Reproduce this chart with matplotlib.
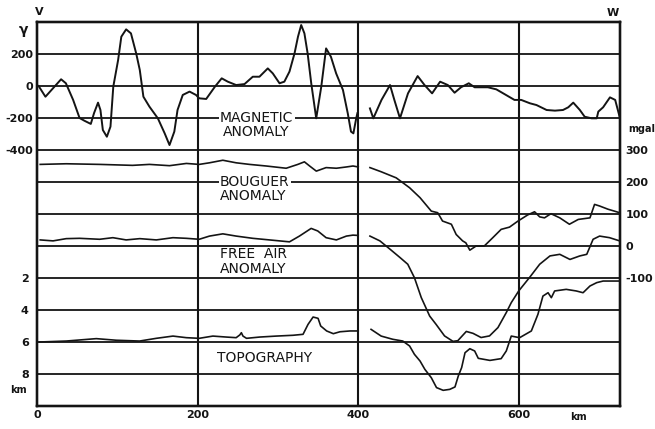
import matplotlib
matplotlib.use("Agg")
import matplotlib.pyplot as plt

# profile distances (km) and values
mag_w_km = [2, 10.5, 30, 36, 45, 53, 59, 67, 71, 76, 79, 82, 87, 91.5, 95, 101, 105, 111, 117,
            123.5, 128, 132.5, 140, 150.5, 159, 165, 171, 175, 181.5, 190, 198, 202, 210.7,
            221.6, 230, 237.6, 248, 258.4, 268.7, 277, 287.4, 293.6, 302, 308, 314.4, 320.7,
            325, 329, 333, 337, 341.5, 347.7, 354, 360, 366, 372.5, 381, 387, 391, 394, 397.5, 399]
mag_w_g = [0, -67, 42, 17, -87, -200, -217, -237, -170, -104, -150, -275, -317, -254, -4, 162,
           308, 354, 329, 204, 100, -67, -129, -202, -296, -369, -285, -150, -56, -35, -56, -77,
           -81, -4, 48, 27, 6, 12, 58, 58, 110, 79, 17, 27, 90, 204, 308, 381, 329, 204, 17, -202,
           -4, 235, 183, 79, -25, -171, -285, -296, -202, -170]
mag_e_km = [414.6, 418.8, 429, 439.6, 445, 452, 462, 474, 482.6, 492, 502, 511.6, 520, 528,
            537.7, 545, 561.5, 572, 584, 594.6, 603, 613.8, 622, 634.6, 645, 655, 661.6, 667.8,
            676, 682, 690.6, 697, 699, 705, 713.5, 720, 725.5]
mag_e_g = [-140, -202, -87, 6, -87, -202, -46, 62, 6, -46, 27, 6, -42, -8, 17, -8, -8, -21, -56,
           -87, -87, -108, -119, -150, -154, -150, -133, -104, -150, -192, -202, -202, -160, -133,
           -71, -87, -192]

boug_w_km = [4, 36.4, 78, 119, 140, 165, 186, 202, 214.8, 231.4, 248, 264.7, 285.4, 310.3,
             324.8, 333, 339.5, 347.8, 360, 372.8, 385.3, 393.5, 400]
boug_w_mgal = [255, 257, 255, 252, 255, 251, 258, 255, 260, 268, 260, 255, 250, 243, 255, 263,
               250, 234, 245, 243, 247, 250, 247]
boug_e_km = [414.6, 428.6, 447.3, 464, 477, 491, 499, 505, 516, 522, 530, 534, 539, 546.8, 557,
             567.6, 578, 588.4, 599, 611, 619.6, 626, 632, 640, 651, 663, 674, 688.6, 694.3,
             700.6, 711, 719, 725.5]
boug_e_mgal = [245, 232, 213, 182, 151, 109, 104, 78, 68, 36, 16, 10, -13, 0, 0, 26, 52, 59, 78,
               97, 107, 91, 88, 101, 88, 68, 83, 88, 130, 125, 115, 109, 104]

fa_w_km = [4, 20, 36.4, 53, 78, 94.5, 111, 128, 148.6, 169.3, 186, 202, 214.8, 231.4, 248,
           268.7, 289.5, 314.4, 326.8, 341.4, 349.6, 360, 372.8, 385.3, 393.5, 400]
fa_w_mgal = [19, 16, 23, 24, 21, 26, 19, 23, 19, 26, 24, 21, 31, 38, 31, 24, 19, 13, 31, 55, 47,
             26, 19, 31, 34, 33]
fa_e_km = [414.6, 427, 439.6, 452, 461.7, 470, 478.5, 489, 497, 507.5, 518, 524, 534.6, 543,
           553, 563.5, 574, 584.4, 590.6, 600, 613.8, 626, 638.8, 651, 663.7, 676, 684.6, 692.5,
           700.6, 713, 725.5]
fa_e_mgal = [31, 16, -10, -36, -57, -99, -161, -219, -245, -281, -298, -296, -267, -273, -286,
             -281, -255, -208, -177, -140, -97, -57, -31, -26, -42, -31, -26, 21, 31, 26, 16]

topo_w_km = [3, 36.4, 73.8, 98.7, 127.8, 148.6, 169.3, 186, 202, 219, 235.5, 248, 252.5, 254.5,
             256.5, 260.9, 277.5, 298, 318.8, 331.3, 337.5, 343.8, 350, 353.3, 360.7, 369,
             377.3, 389.8, 400]
topo_w_depth = [6.0, 5.94, 5.79, 5.89, 5.94, 5.77, 5.63, 5.73, 5.77, 5.63, 5.69, 5.73, 5.56,
                5.42, 5.63, 5.77, 5.69, 5.63, 5.58, 5.52, 4.9, 4.44, 4.52, 5.0, 5.31, 5.48, 5.36,
                5.31, 5.31]
topo_e_km = [416, 428.6, 443, 455.5, 464, 470, 477, 483, 491, 497.5, 505.8, 514, 520.5, 524.6,
             528.8, 533, 539, 545, 549.5, 564, 578, 584.4, 590.6, 601, 615.6, 623.8, 630, 636.4,
             640.5, 644.6, 659, 671.5, 680, 688.6, 697, 705, 717.6, 725.5]
topo_e_depth = [5.21, 5.63, 5.83, 5.94, 6.25, 6.77, 7.19, 7.71, 8.23, 8.85, 9.02, 8.96, 8.81,
                8.13, 7.6, 6.67, 6.42, 6.56, 7.02, 7.15, 7.04, 6.56, 5.63, 5.73, 5.31, 4.27, 3.13,
                2.92, 3.23, 2.81, 2.71, 2.81, 2.92, 2.5, 2.29, 2.19, 2.19, 2.19]

mag_ticks = [200, 0, -200, -400]
grav_ticks = [300, 200, 100, 0, -100]
topo_ticks = [2, 4, 6, 8]
km_ticks = [0, 200, 400, 600]

INK = "#141414"
LW = 1.4
tick_font = dict(fontsize=8, fontweight="bold", color=INK)
unit_font = dict(fontsize=7, fontweight="bold", color=INK)
label_font = dict(fontsize=10, color=INK)

fig = plt.figure(figsize=(6.55, 4.29), dpi=100)
ax = fig.add_axes([37 / 655, 1 - 406 / 429, 583 / 655, 384 / 429])
ax_g = ax.twinx()
ax_t = ax.twinx()

ax.set_xlim(0, 726)
ax.set_ylim(-2000, 400)
ax_g.set_ylim(-500, 700)
ax_t.set_ylim(10, -14)

# frame grid: a horizontal rule every 200 gamma, verticals every 200 km
for v in range(-1800, 400, 200):
    ax.axhline(v, color=INK, lw=1.3, zorder=1)
for k in km_ticks[1:]:
    ax.axvline(k, color=INK, lw=1.5, zorder=1)

ax.plot(mag_w_km, mag_w_g, color=INK, lw=LW, zorder=3)
ax.plot(mag_e_km, mag_e_g, color=INK, lw=LW, zorder=3)
ax_g.plot(boug_w_km, boug_w_mgal, color=INK, lw=LW * 0.85)
ax_g.plot(boug_e_km, boug_e_mgal, color=INK, lw=LW * 0.85)
ax_g.plot(fa_w_km, fa_w_mgal, color=INK, lw=LW * 0.85)
ax_g.plot(fa_e_km, fa_e_mgal, color=INK, lw=LW * 0.85)
ax_t.plot(topo_w_km, topo_w_depth, color=INK, lw=LW * 0.85)
ax_t.plot(topo_e_km, topo_e_depth, color=INK, lw=LW * 0.85)

for a in (ax, ax_g, ax_t):
    a.tick_params(length=0)
    for s in a.spines.values():
        s.set_color(INK)
        s.set_linewidth(1.6)

ax.set_xticks(km_ticks)
ax.set_xticklabels([str(k) for k in km_ticks], **tick_font)
ax.tick_params(axis="x", pad=3)
ax.set_yticks(mag_ticks)
ax.set_yticklabels([str(v) for v in mag_ticks], **tick_font)
ax.tick_params(axis="y", pad=3)

ax_g.set_yticks(grav_ticks)
ax_g.set_yticklabels([str(v) for v in grav_ticks], **tick_font)
ax_g.tick_params(axis="y", pad=4)

ax_t.yaxis.tick_left()
ax_t.set_yticks(topo_ticks)
ax_t.set_yticklabels([str(v) for v in topo_ticks], **tick_font)
ax_t.tick_params(axis="y", pad=6)

# units and profile ends
fig.text(39 / 655, 1 - 12 / 429, "V", ha="center", va="center", **tick_font)
fig.text(613 / 655, 1 - 13 / 429, "W", ha="center", va="center", **tick_font)
fig.text(23 / 655, 1 - 30 / 429, "γ", ha="center", va="center", fontsize=10, fontweight="bold", color=INK)
fig.text(628 / 655, 1 - 129 / 429, "mgal", ha="left", va="center", **unit_font)
fig.text(18 / 655, 1 - 390 / 429, "km", ha="center", va="center", **unit_font)
fig.text(578 / 655, 1 - 417 / 429, "km", ha="center", va="center", **unit_font)

box = dict(facecolor="white", edgecolor="none", pad=1.0)
ax.text(228, -197, "MAGNETIC", ha="left", va="center", bbox=box, zorder=4, **label_font)
ax.text(231, -285, "ANOMALY", ha="left", va="center", zorder=5, **label_font)
ax_g.text(228, 200, "BOUGUER", ha="left", va="center", bbox=box, zorder=4, **label_font)
ax_g.text(228, 155, "ANOMALY", ha="left", va="center", zorder=5, **label_font)
ax_g.text(228, -25, "FREE  AIR", ha="left", va="center", zorder=4, **label_font)
ax_g.text(228, -72, "ANOMALY", ha="left", va="center", zorder=4, **label_font)
ax_t.text(224, 7.0, "TOPOGRAPHY", ha="left", va="center", zorder=4, **label_font)

fig.savefig("out.png", dpi=100)
